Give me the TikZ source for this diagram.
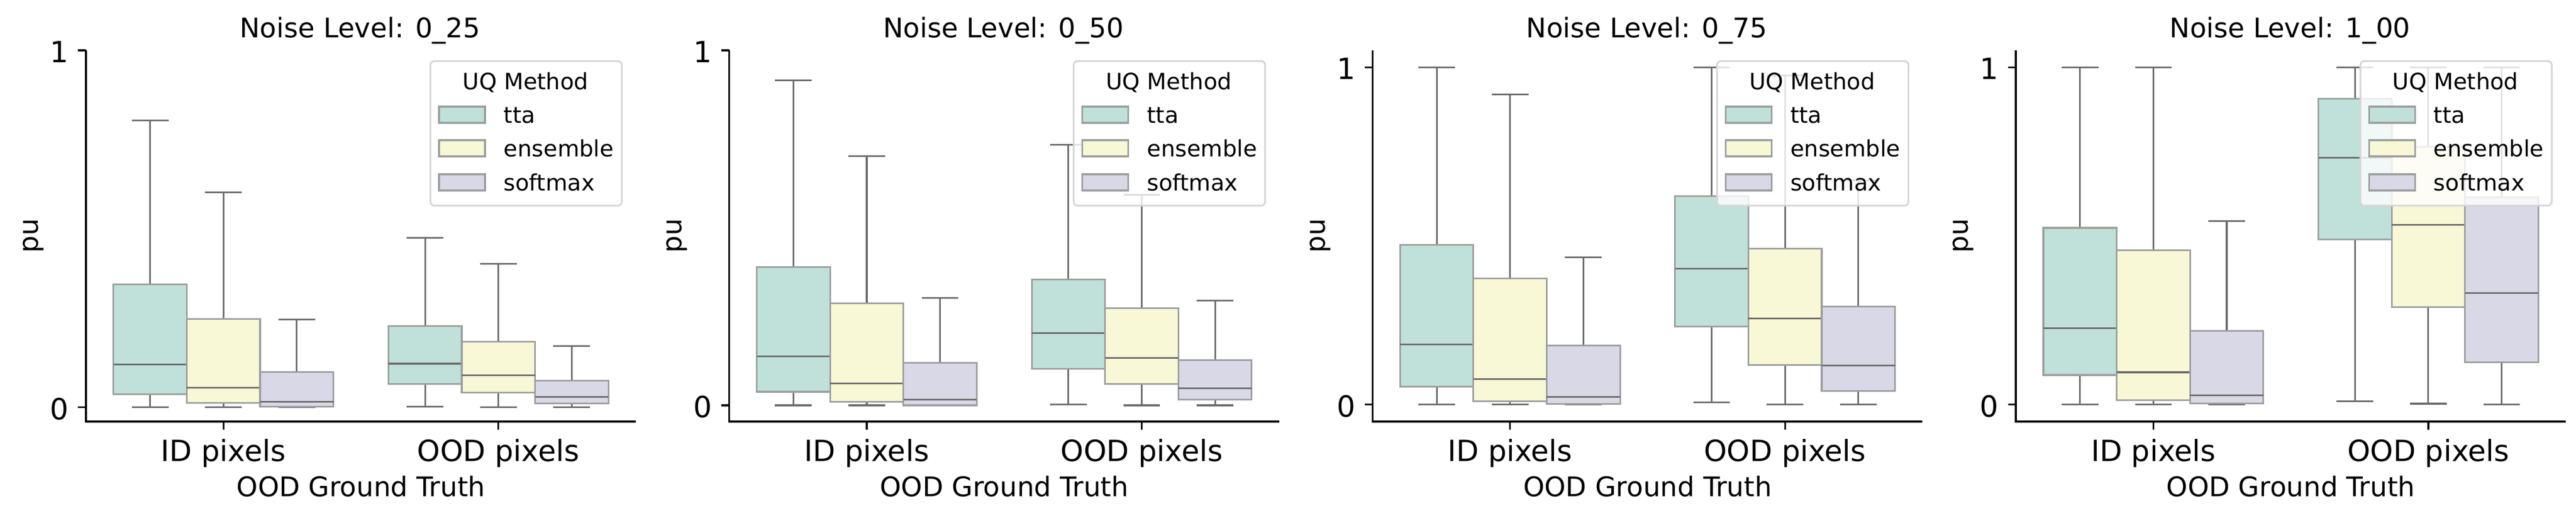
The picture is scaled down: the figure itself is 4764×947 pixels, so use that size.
\documentclass[tikz,border=0pt]{standalone}
\usepackage{fontspec}
\setmainfont{DejaVu Sans}
\definecolor{ttacol}{HTML}{C0E0DA}
\definecolor{enscol}{HTML}{F8F8D6}
\definecolor{softcol}{HTML}{D9D8E6}
\definecolor{boxedge}{HTML}{9C9F9E}
\definecolor{whisk}{HTML}{6B6B6B}
\definecolor{legframe}{HTML}{D6D6D6}

\begin{document}
\begin{tikzpicture}[x=0.25pt,y=0.25pt]
\tikzset{
  spine/.style={line width=0.83pt, draw=black},
  boite/.style={line width=0.78pt, draw=boxedge},
  moust/.style={line width=0.78pt, draw=whisk},
  titre/.style={font=\fontsize{12.5}{15}\selectfont, inner sep=0pt, anchor=base},
  graduation/.style={font=\fontsize{13.5}{16}\selectfont, inner sep=0pt},
  legende/.style={font=\fontsize{10.4}{12.5}\selectfont, inner sep=0pt},
  cadre/.style={draw=legframe, line width=0.8pt, fill=white, fill opacity=0.8, rounded corners=1.8pt},
  pastille/.style={draw=boxedge, line width=0.78pt}
}
\useasboundingbox (0,0) rectangle (4764,947);

% boites (panneau/groupe/decalage/couleur/min/q1/mediane/q3/max)
\foreach \i/\g/\c/\col/\lo/\qa/\me/\qb/\hi in {
  0/0/-1/ttacol/0/.037/.120/.344/.803, 0/0/0/enscol/0/.012/.055/.247/.602, 0/0/1/softcol/0/.002/.015/.099/.246,
  0/1/-1/ttacol/.002/.065/.122/.227/.474, 0/1/0/enscol/0/.041/.090/.184/.402, 0/1/1/softcol/0/.010/.029/.074/.171,
  1/0/-1/ttacol/0/.038/.138/.390/.916, 1/0/0/enscol/0/.010/.062/.287/.702, 1/0/1/softcol/0/0/.016/.120/.303,
  1/1/-1/ttacol/.002/.103/.203/.355/.734, 1/1/0/enscol/0/.060/.134/.273/.593, 1/1/1/softcol/0/.016/.048/.127/.295,
  2/0/-1/ttacol/0/.054/.178/.474/1, 2/0/0/enscol/0/.010/.076/.374/.920, 2/0/1/softcol/0/.002/.023/.176/.437,
  2/1/-1/ttacol/.007/.231/.403/.618/1, 2/1/0/enscol/0/.118/.256/.462/.976, 2/1/1/softcol/0/.041/.116/.291/.665,
  3/0/-1/ttacol/0/.088/.227/.524/1, 3/0/0/enscol/0/.014/.096/.457/1, 3/0/1/softcol/0/.004/.028/.219/.544,
  3/1/-1/ttacol/.010/.489/.732/.906/1, 3/1/0/enscol/.003/.289/.533/.764/1, 3/1/1/softcol/0/.125/.331/.614/1
}{
  \pgfmathsetmacro\ymin{{-0.0402,-0.0458,-0.05,-0.05}[\i]}
  \pgfmathsetmacro\ymax{{1,1,1.05,1.05}[\i]}
  \pgfmathsetmacro\ys{686/(\ymax-\ymin)}
  \pgfmathsetmacro\yz{-\ymin*\ys}
  \pgfmathsetmacro\yu{\ys*0.25}
  \pgfmathsetmacro\xc{254.25+508.5*\g+135.6*\c}
  \begin{scope}[shift={(159+1189.7*\i,168+\yz)}, y=\yu pt]
    \draw[moust] (\xc,\qb) -- (\xc,\hi) (\xc-33.9,\hi) -- (\xc+33.9,\hi)
                 (\xc,\qa) -- (\xc,\lo) (\xc-33.9,\lo) -- (\xc+33.9,\lo);
    \draw[boite, fill=\col] (\xc-67.8,\qa) rectangle (\xc+67.8,\qb);
    \draw[moust] (\xc-67.8,\me) -- (\xc+67.8,\me);
  \end{scope}
}

% axes, textes et legendes
\foreach \i/\niveau in {0/0\_25, 1/0\_50, 2/0\_75, 3/1\_00}{
  \pgfmathsetmacro\ymin{{-0.0402,-0.0458,-0.05,-0.05}[\i]}
  \pgfmathsetmacro\ymax{{1,1,1.05,1.05}[\i]}
  \pgfmathsetmacro\ys{686/(\ymax-\ymin)}
  \pgfmathsetmacro\yz{-\ymin*\ys}
  \pgfmathsetmacro\yun{\yz+\ys}
  \begin{scope}[shift={(159+1189.7*\i,168)}]
    \draw[spine] (0,686) -- (0,0) -- (1017,0);
    \draw[spine] (254.25,0) -- (254.25,-14.6) (762.75,0) -- (762.75,-14.6);
    \draw[spine] (0,\yz) -- (-14.6,\yz) (0,\yun) -- (-14.6,\yun);
    \node[graduation, anchor=east] (zero\i) at (-31,\yz-3) {0};
    \node[graduation, anchor=east] (un\i) at (-31,\yun-3) {1};
    \node[graduation, anchor=base] (id\i) at (254.25,-73) {ID pixels};
    \node[graduation, anchor=base] (ood\i) at (762.75,-73) {OOD pixels};
    \node[titre] (xl\i) at (508.5,-138) {OOD Ground Truth};
    \node[titre, rotate=90, anchor=center] (yl\i) at (-97,343) {pu};
    \node[titre] (t\i) at (507,710) {Noise Level: \niveau};
    % legende
    \draw[cadre] (637,399) rectangle (991,666);
    \node[legende, anchor=base] (lt\i) at (813,614) {UQ Method};
    \draw[pastille, fill=ttacol] (653,552) rectangle (738,582);
    \node[legende, anchor=base west] (la\i) at (772,552) {tta};
    \draw[pastille, fill=enscol] (653,490) rectangle (738,520);
    \node[legende, anchor=base west] (lb\i) at (772,490) {ensemble};
    \draw[pastille, fill=softcol] (653,427) rectangle (738,457);
    \node[legende, anchor=base west] (lc\i) at (772,427) {softmax};
  \end{scope}
}
\end{tikzpicture}
\end{document}
